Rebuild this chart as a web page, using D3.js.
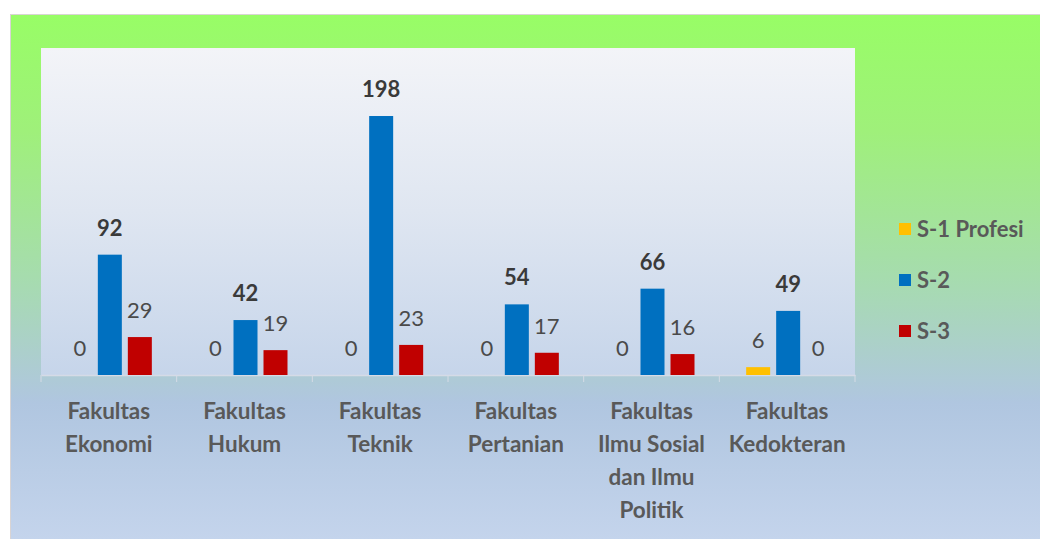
<!DOCTYPE html>
<html>
<head>
<meta charset="utf-8">
<script src="https://cdn.jsdelivr.net/npm/d3@7"></script>
<style>
  body { margin: 0; background: #fff; }
  text { font-family: Lato, "Open Sans", sans-serif; }
</style>
</head>
<body>
<div id="chart"></div>
<script>
// Width and height
var w = 1040;
var h = 539;

// data
var categories = ["Fakultas Ekonomi", "Fakultas Hukum", "Fakultas Teknik", "Fakultas Pertanian",
  "Fakultas Ilmu Sosial dan Ilmu Politik", "Fakultas Kedokteran"];
var categoryLines = [
  ["Fakultas", "Ekonomi"],
  ["Fakultas", "Hukum"],
  ["Fakultas", "Teknik"],
  ["Fakultas", "Pertanian"],
  ["Fakultas", "Ilmu Sosial", "dan Ilmu", "Politik"],
  ["Fakultas", "Kedokteran"]
];
var seriesNames = ["S-1 Profesi", "S-2", "S-3"];
var s1Profesi = [0, 0, 0, 0, 0, 6];
var s2 = [92, 42, 198, 54, 66, 49];
var s3 = [29, 19, 23, 17, 16, 0];
var seriesColors = ["#ffc000", "#0070c0", "#c00000"];

var seriesValues = [s1Profesi, s2, s3];

var plot = { left: 41, right: 855, top: 48, bottom: 375 };

var svg = d3.select("#chart").append("svg")
  .attr("width", w)
  .attr("height", h);

var defs = svg.append("defs");
var bg = defs.append("linearGradient").attr("id", "bg")
  .attr("x1", 0).attr("y1", 0).attr("x2", 0).attr("y2", 1);
bg.append("stop").attr("offset", "0%").attr("stop-color", "#98fd66");
bg.append("stop").attr("offset", "22%").attr("stop-color", "#9ff07a");
bg.append("stop").attr("offset", "50%").attr("stop-color", "#a6dcae");
bg.append("stop").attr("offset", "74%").attr("stop-color", "#b0c6e0");
bg.append("stop").attr("offset", "100%").attr("stop-color", "#c4d4ec");

var pg = defs.append("linearGradient").attr("id", "pg")
  .attr("x1", 0).attr("y1", 0).attr("x2", 0).attr("y2", 1);
pg.append("stop").attr("offset", "0%").attr("stop-color", "#f3f4f8");
pg.append("stop").attr("offset", "50%").attr("stop-color", "#dfe6f1");
pg.append("stop").attr("offset", "100%").attr("stop-color", "#c6d5ea");

// outer frame
svg.append("rect")
  .attr("x", 10.5).attr("y", 14.5)
  .attr("width", w - 10).attr("height", h - 14)
  .attr("fill", "url(#bg)")
  .attr("stroke", "#d9d4d4")
  .attr("stroke-width", 1);

// plot area
svg.append("rect")
  .attr("x", plot.left).attr("y", plot.top)
  .attr("width", plot.right - plot.left).attr("height", plot.bottom - plot.top)
  .attr("fill", "url(#pg)");

// scales
var x0 = d3.scaleBand()
  .domain(categories)
  .range([plot.left, plot.right])
  .padding(0);

var x1 = d3.scaleBand()
  .domain(seriesNames)
  .range([x0.bandwidth() / 2 - 41, x0.bandwidth() / 2 + 43])
  .paddingInner(0.2)
  .paddingOuter(0);

var y = d3.scaleLinear()
  .domain([0, 250])
  .range([plot.bottom, plot.top]);

// axis
var xAxis = d3.axisBottom(x0).tickSize(0).tickFormat("");
var axisG = svg.append("g")
  .attr("transform", "translate(0," + plot.bottom + ")")
  .call(xAxis);
axisG.select(".domain").attr("stroke", "#d5dbe6").attr("stroke-width", 1.5);

// tick marks between categories
var bounds = categories.map(function (c) { return x0(c); }).concat([plot.right]);
svg.selectAll("line.tick-sep")
  .data(bounds)
  .enter()
  .append("line")
  .attr("class", "tick-sep")
  .attr("x1", function (d) { return d; })
  .attr("x2", function (d) { return d; })
  .attr("y1", plot.bottom)
  .attr("y2", plot.bottom + 7)
  .attr("stroke", "#d5dbe6")
  .attr("stroke-width", 1);

// bars
var groups = svg.selectAll("g.cat")
  .data(categories)
  .enter()
  .append("g")
  .attr("class", "cat")
  .attr("transform", function (d) { return "translate(" + x0(d) + ",0)"; });

groups.selectAll("rect")
  .data(function (d, i) {
    return seriesNames.map(function (s, j) { return { s: s, j: j, v: seriesValues[j][i] }; });
  })
  .enter()
  .append("rect")
  .attr("x", function (d) { return x1(d.s); })
  .attr("y", function (d) { return y(d.v); })
  .attr("width", x1.bandwidth())
  .attr("height", function (d) { return y(0) - y(d.v); })
  .attr("fill", function (d) { return seriesColors[d.j]; });

// value labels
groups.selectAll("text.val")
  .data(function (d, i) {
    return seriesNames.map(function (s, j) { return { s: s, j: j, v: seriesValues[j][i] }; });
  })
  .enter()
  .append("text")
  .attr("class", "val")
  .attr("x", function (d) { return x1(d.s) + x1.bandwidth() / 2; })
  .attr("y", function (d) { return y(d.v) - 19; })
  .attr("text-anchor", "middle")
  .attr("font-size", "22px")
  .attr("font-weight", function (d) { return d.j == 1 ? "bold" : "normal"; })
  .attr("fill", function (d) { return d.j == 1 ? "#3a3a3a" : "#4a4a4a"; })
  .text(function (d) { return d.v; });

// category labels
svg.selectAll("text.cat-label")
  .data(categories)
  .enter()
  .append("text")
  .attr("class", "cat-label")
  .attr("text-anchor", "middle")
  .attr("font-size", "22.5px")
  .attr("font-weight", "bold")
  .attr("fill", "#595959")
  .each(function (d, i) {
    var t = d3.select(this);
    categoryLines[i].forEach(function (line, k) {
      t.append("tspan")
        .attr("x", x0(d) + x0.bandwidth() / 2)
        .attr("y", 419 + k * 33)
        .text(line);
    });
  });

// legend
var legend = svg.selectAll("g.legend")
  .data(seriesNames)
  .enter()
  .append("g")
  .attr("class", "legend")
  .attr("transform", function (d, i) { return "translate(899," + (229 + i * 51) + ")"; });

legend.append("rect")
  .attr("x", 0).attr("y", -6)
  .attr("width", 12).attr("height", 12)
  .attr("fill", function (d, i) { return seriesColors[i]; });

legend.append("text")
  .attr("x", 18)
  .attr("y", 7.5)
  .attr("font-size", "22px")
  .attr("font-weight", "bold")
  .attr("fill", "#595959")
  .text(function (d) { return d; });
</script>
</body>
</html>
